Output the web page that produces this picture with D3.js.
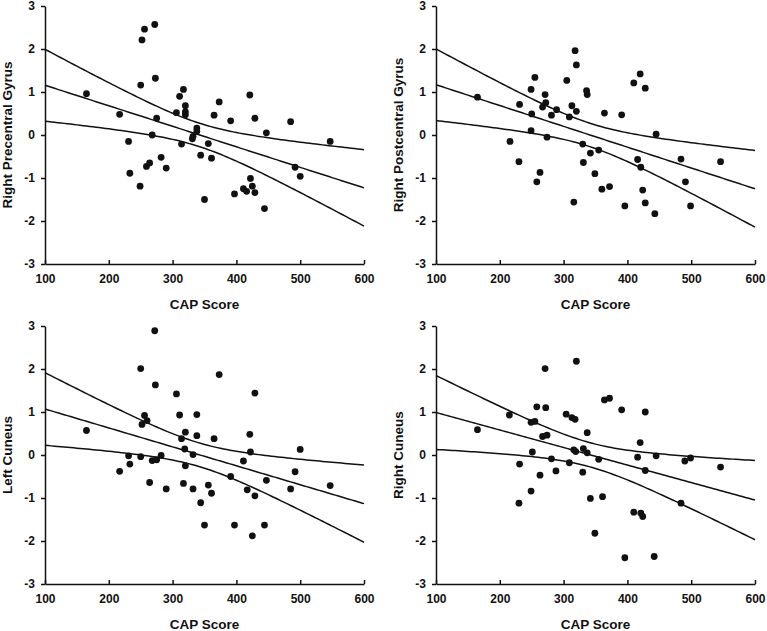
<!DOCTYPE html>
<html>
<head>
<meta charset="utf-8">
<script src="https://cdn.jsdelivr.net/npm/d3@7"></script>
<style>
  html, body { margin: 0; padding: 0; background: #fff; }
  svg { display: block; }
  .axis text { font-family: "Liberation Sans", Arial, sans-serif; font-weight: bold; font-size: 12px; fill: #111; }
  .axis path, .axis line { stroke: #111; stroke-width: 1.5px; }
  .title { font-family: "Liberation Sans", Arial, sans-serif; font-weight: bold; font-size: 13.5px; fill: #111; }
</style>
</head>
<body>
<div id="chart"></div>
<script>
// CAP score vs. region values
const xTicks = [100, 200, 300, 400, 500, 600];
const yTicks = [-3, -2, -1, 0, 1, 2, 3];
const panelTitles = ['Right Precentral Gyrus', 'Right Postcentral Gyrus', 'Left Cuneus', 'Right Cuneus'];

const capPrecentral = [165,217,231,233,249,250,252,256,259,264,268,272,273,275,282,290,306,311,314,317,320,320,320,331,332,338,338,344,350,356,361,365,373,391,397,411,416,421,422,425,429,429,444,447,485,492,500,547];
const valPrecentral = [0.96,0.48,-0.15,-0.89,-1.19,1.16,2.21,2.46,-0.73,-0.65,0.00,2.57,1.32,0.39,-0.52,-0.77,0.52,0.90,-0.21,1.06,0.68,0.54,0.47,-0.09,-0.03,0.16,0.09,-0.47,-1.50,-0.20,-0.54,0.46,0.77,0.33,-1.37,-1.25,-1.31,0.93,-1.01,-1.19,-1.34,0.39,-1.71,0.05,0.31,-0.75,-0.96,-0.15];

const capPostcentral = [165,216,231,230,249,250,249,255,258,263,267,271,272,274,281,289,305,309,313,316,318,320,320,330,331,336,337,342,349,355,360,364,372,391,396,410,416,420,421,424,428,428,443,445,484,491,499,546];
const valPostcentral = [0.88,-0.15,0.71,-0.62,1.06,0.49,0.10,1.34,-1.09,-0.87,0.65,0.94,0.75,-0.05,0.46,0.59,1.27,0.42,0.68,-1.56,1.96,1.63,0.55,-0.21,-0.64,1.03,0.94,-0.42,-0.90,-0.35,-1.26,0.51,-1.20,0.47,-1.65,1.21,-0.57,1.42,-0.75,-1.28,1.09,-1.58,-1.83,0.02,-0.56,-1.09,-1.65,-0.62];

const capLeftCuneus = [165,217,231,233,250,250,252,256,260,264,268,272,273,275,282,290,306,311,314,317,319,320,320,332,332,338,338,344,350,356,361,365,373,391,397,411,417,421,422,425,429,429,444,447,485,492,500,547];
const valLeftCuneus = [0.57,-0.38,-0.02,-0.21,2.01,-0.04,0.71,0.92,0.80,-0.64,-0.13,2.89,1.63,-0.11,-0.01,-0.79,1.42,0.93,0.38,-0.66,0.14,0.53,-0.25,0.01,-0.79,0.45,0.94,-1.11,-1.63,-0.70,-0.89,0.38,1.87,-0.50,-1.63,-0.14,-0.81,0.48,0.07,-1.88,-0.95,1.44,-1.63,-0.59,-0.79,-0.39,0.13,-0.71];

const capRightCuneus = [165,215,230,231,249,249,251,255,258,263,267,271,272,274,281,288,304,309,313,316,318,319,320,330,331,337,337,342,349,355,361,364,372,391,396,410,416,420,421,424,428,428,442,445,484,490,499,546];
const valRightCuneus = [0.59,0.93,-1.12,-0.21,-0.84,0.76,0.07,0.78,1.12,-0.47,0.43,2.01,1.10,0.46,-0.09,-0.37,0.95,-0.18,0.87,0.12,0.83,0.08,2.18,-0.40,0.15,0.52,0.05,-1.01,-1.82,-0.10,-0.97,1.28,1.32,1.05,-2.39,-1.33,-0.05,0.29,-1.35,-1.43,1.00,-0.36,-2.36,-0.02,-1.12,-0.14,-0.07,-0.28];

(function() {
    'use strict';

    const width = 767, height = 631;
    const plotW = 319, plotH = 258;

    const panels = [
        { title: panelTitles[0], xs: capPrecentral, ys: valPrecentral, left: 45, top: 6 },
        { title: panelTitles[1], xs: capPostcentral, ys: valPostcentral, left: 436, top: 6 },
        { title: panelTitles[2], xs: capLeftCuneus, ys: valLeftCuneus, left: 45, top: 326 },
        { title: panelTitles[3], xs: capRightCuneus, ys: valRightCuneus, left: 436, top: 326 }
    ];

    const svg = d3.select('#chart').append('svg')
        .attr('width', width)
        .attr('height', height);

    svg.append('rect').attr('width', width).attr('height', height).attr('fill', '#fff');

    // least squares fit with 95% confidence band of the mean
    function fitLine(xs, ys) {
        const n = xs.length;
        const mx = d3.mean(xs), my = d3.mean(ys);
        let sxx = 0, sxy = 0;
        xs.forEach((x, i) => { sxx += (x - mx) * (x - mx); sxy += (x - mx) * (ys[i] - my); });
        const b = sxy / sxx, a = my - b * mx;
        let sse = 0;
        xs.forEach((x, i) => { const r = ys[i] - (a + b * x); sse += r * r; });
        const s = Math.sqrt(sse / (n - 2));
        const t = 2.013;
        return d3.range(100, 601, 5).map(x => {
            const yh = a + b * x;
            const se = s * Math.sqrt(1 / n + (x - mx) * (x - mx) / sxx);
            return { x: x, y: yh, lo: yh - t * se, hi: yh + t * se };
        });
    }

    panels.forEach(p => {
        const g = svg.append('g').attr('transform', `translate(${p.left},${p.top})`);

        const x = d3.scaleLinear().domain([100, 600]).range([0, plotW]);
        const y = d3.scaleLinear().domain([-3, 3]).range([plotH, 0]);

        const fit = fitLine(p.xs, p.ys);
        ['y', 'lo', 'hi'].forEach(k => {
            g.append('path')
                .datum(fit)
                .attr('fill', 'none')
                .attr('stroke', '#111')
                .attr('stroke-width', 1.5)
                .attr('d', d3.line().x(d => x(d.x)).y(d => y(d[k])));
        });

        g.selectAll('circle.pt')
            .data(p.xs.map((v, i) => [v, p.ys[i]]))
            .enter()
            .append('circle')
            .attr('class', 'pt')
            .attr('cx', d => x(d[0]))
            .attr('cy', d => y(d[1]))
            .attr('r', 3.4)
            .attr('fill', '#111');

        g.append('g')
            .attr('class', 'axis')
            .attr('transform', `translate(0,${plotH})`)
            .call(d3.axisBottom(x).tickValues(xTicks).tickSizeInner(-4).tickSizeOuter(0).tickPadding(10).tickFormat(d => String(d)));

        g.append('g')
            .attr('class', 'axis')
            .call(d3.axisLeft(y).tickValues(yTicks).tickSizeInner(4).tickSizeOuter(0).tickPadding(6).tickFormat(d => String(d)));

        g.append('text')
            .attr('class', 'title')
            .attr('x', plotW / 2)
            .attr('y', plotH + 45)
            .attr('text-anchor', 'middle')
            .text('CAP Score');

        g.append('text')
            .attr('class', 'title')
            .attr('transform', `translate(${-33},${plotH / 2}) rotate(-90)`)
            .attr('text-anchor', 'middle')
            .text(p.title);
    });
})();
</script>
</body>
</html>
